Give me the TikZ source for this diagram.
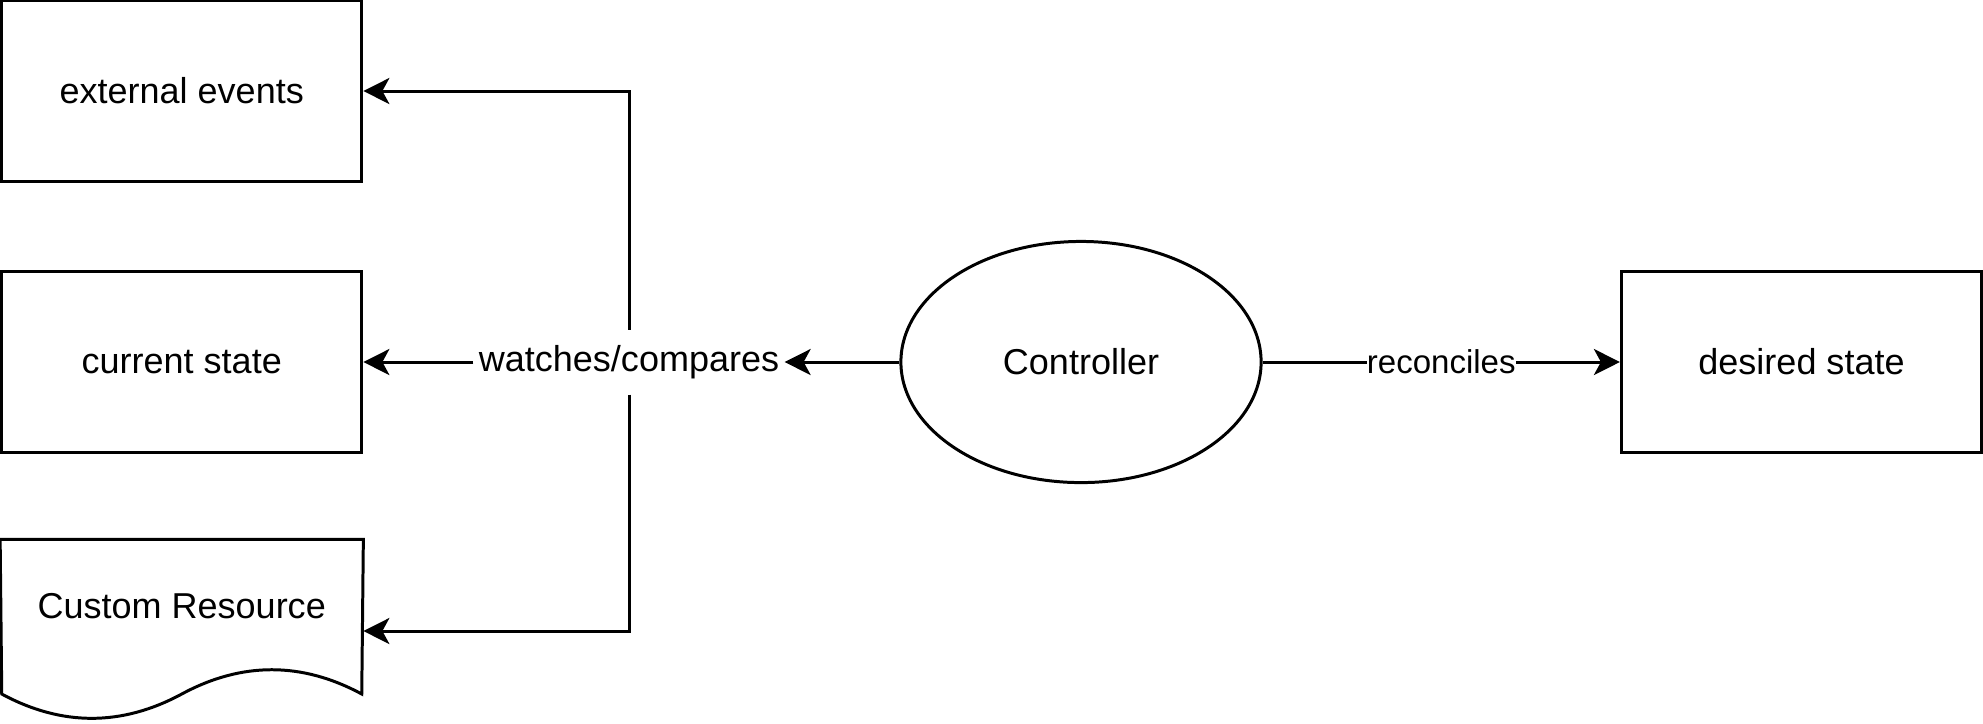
\documentclass[tikz,border=0pt]{standalone}
\usepackage{fontspec}
\setmainfont{Liberation Sans}
\usepackage{tikz}
\usetikzlibrary{shapes,arrows.meta}

\begin{document}
\begin{tikzpicture}[x=0.01cm,y=-0.01cm,line width=0.85pt,
	font=\fontsize{10.24}{12}\selectfont,
	>={Stealth[length=0.26cm,width=0.26cm,inset=0.07cm]},
	box/.style={rectangle,draw,minimum width=3.6cm,minimum height=1.8cm,inner sep=0pt},
	elabel/.style={fill=white,inner xsep=0pt,inner ysep=1pt,font=\fontsize{9.39}{11}\selectfont}]
\useasboundingbox (0,0) rectangle (1983,723);

\node [box] (ext) at (181.75,91) {external events};
\node [box] (cur) at (181.75,362) {current state};
\node [box,draw=none,label={[yshift=0.25cm]center:Custom Resource}] (res) at (181.75,631) {};
\node [ellipse,draw,minimum width=3.6cm,minimum height=2.41cm,inner sep=0pt] (ctrl) at (1081,362) {Controller};
\node [box] (des) at (1801.5,362) {desired state};
\node [inner xsep=0.04cm,minimum height=0.62cm] (wc) at (629,362) {watches/compares};

% document outline with wavy bottom
\draw (res.north west) -- (res.north east) -- (361.75,694)
	.. controls (301.75,661.6) and (241.75,661.6) .. (181.75,694)
	.. controls (121.75,726.4) and (61.75,726.4) .. (1.75,694) -- cycle;

\draw [->] (ctrl) -- (wc);
\draw [->] (wc) -- (cur);
\draw [->] (wc.north) |- (ext);
\draw [->] (wc.south) |- (res);
\draw [->] (ctrl) -- node [elabel] {reconciles} (des);
\end{tikzpicture}
\end{document}
